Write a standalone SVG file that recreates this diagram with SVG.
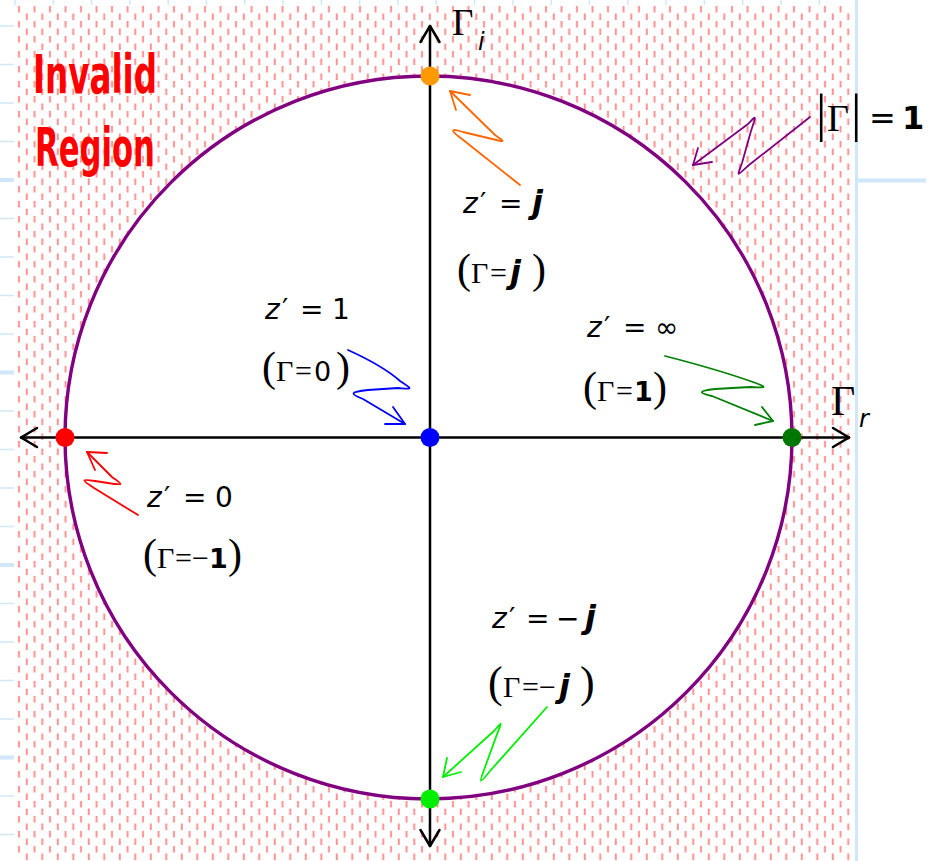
<svg xmlns="http://www.w3.org/2000/svg" width="934" height="861" viewBox="0 0 934 861">
<defs>
<style>
.grid{stroke:#cfe7f8;stroke-width:1.5}
.gridb{stroke:#cfe7f8;stroke-width:4}
.axis{stroke:#000;stroke-width:2.5;fill:none;stroke-linecap:round;stroke-linejoin:round}
.sq{fill:none;stroke-width:1.8;stroke-linecap:round;stroke-linejoin:round}
.ser{font-family:'Liberation Serif','DejaVu Serif',serif;fill:#000}
.sans{font-family:'DejaVu Sans','Liberation Sans',sans-serif;fill:#000}
.it{font-style:italic}
.inv{font-family:'DejaVu Sans Condensed','DejaVu Sans',sans-serif;font-size:54px;font-weight:bold;fill:#ff0000}
</style>
<pattern id="hatch" patternUnits="userSpaceOnUse" x="15.25" y="5" width="15.5" height="15">
<line x1="3.75" y1="1" x2="3.75" y2="7.5" stroke="#ff8585" stroke-width="2" stroke-opacity="0.9"/>
<line x1="11.5" y1="8.5" x2="11.5" y2="15" stroke="#ff8585" stroke-width="2" stroke-opacity="0.9"/>
</pattern>
</defs>
<rect width="934" height="861" fill="#fff"/>
<g id="grid">
<line class="grid" x1="0" y1="26" x2="14" y2="26"/>
<line class="grid" x1="0" y1="64.5" x2="14" y2="64.5"/>
<line class="grid" x1="0" y1="103" x2="14" y2="103"/>
<line class="grid" x1="0" y1="141.5" x2="14" y2="141.5"/>
<line class="gridb" x1="0" y1="180" x2="14" y2="180"/>
<line class="grid" x1="0" y1="218.5" x2="14" y2="218.5"/>
<line class="grid" x1="0" y1="257" x2="14" y2="257"/>
<line class="grid" x1="0" y1="295.5" x2="14" y2="295.5"/>
<line class="grid" x1="0" y1="334" x2="14" y2="334"/>
<line class="gridb" x1="0" y1="372.5" x2="14" y2="372.5"/>
<line class="grid" x1="0" y1="411" x2="14" y2="411"/>
<line class="grid" x1="0" y1="449.5" x2="14" y2="449.5"/>
<line class="grid" x1="0" y1="488" x2="14" y2="488"/>
<line class="grid" x1="0" y1="526.5" x2="14" y2="526.5"/>
<line class="gridb" x1="0" y1="565" x2="14" y2="565"/>
<line class="grid" x1="0" y1="603.5" x2="14" y2="603.5"/>
<line class="grid" x1="0" y1="642" x2="14" y2="642"/>
<line class="grid" x1="0" y1="680.5" x2="14" y2="680.5"/>
<line class="grid" x1="0" y1="719" x2="14" y2="719"/>
<line class="gridb" x1="0" y1="757.5" x2="14" y2="757.5"/>
<line class="grid" x1="0" y1="796" x2="14" y2="796"/>
<line class="grid" x1="0" y1="834.5" x2="14" y2="834.5"/>
<line class="grid" x1="15" y1="0" x2="15" y2="5"/>
<line class="grid" x1="53.3" y1="0" x2="53.3" y2="5"/>
<line class="grid" x1="91.6" y1="0" x2="91.6" y2="5"/>
<line class="grid" x1="129.9" y1="0" x2="129.9" y2="5"/>
<line class="grid" x1="168.2" y1="0" x2="168.2" y2="5"/>
<line class="grid" x1="206.5" y1="0" x2="206.5" y2="5"/>
<line class="grid" x1="244.8" y1="0" x2="244.8" y2="5"/>
<line class="grid" x1="283.1" y1="0" x2="283.1" y2="5"/>
<line class="grid" x1="321.4" y1="0" x2="321.4" y2="5"/>
<line class="grid" x1="359.7" y1="0" x2="359.7" y2="5"/>
<line class="grid" x1="398" y1="0" x2="398" y2="5"/>
<line class="grid" x1="436.3" y1="0" x2="436.3" y2="5"/>
<line class="grid" x1="474.6" y1="0" x2="474.6" y2="5"/>
<line class="grid" x1="512.9" y1="0" x2="512.9" y2="5"/>
<line class="grid" x1="551.2" y1="0" x2="551.2" y2="5"/>
<line class="grid" x1="589.5" y1="0" x2="589.5" y2="5"/>
<line class="grid" x1="627.8" y1="0" x2="627.8" y2="5"/>
<line class="grid" x1="666.1" y1="0" x2="666.1" y2="5"/>
<line class="grid" x1="704.4" y1="0" x2="704.4" y2="5"/>
<line class="grid" x1="742.7" y1="0" x2="742.7" y2="5"/>
<line class="grid" x1="781" y1="0" x2="781" y2="5"/>
<line class="grid" x1="819.3" y1="0" x2="819.3" y2="5"/>
<line class="gridb" x1="856.5" y1="0" x2="856.5" y2="861" style="stroke-width:3"/>
<line class="gridb" x1="858" y1="180.5" x2="926" y2="180.5"/>
</g>
<rect id="invalid-region" x="16" y="5" width="838" height="856" fill="url(#hatch)"/>
<ellipse id="unit-circle" cx="428.5" cy="437.5" rx="363.5" ry="361.5" fill="#fff" stroke="#800080" stroke-width="3.4"/>
<g id="axes">
<line class="axis" x1="21" y1="437.5" x2="849" y2="437.5"/>
<line class="axis" x1="430" y1="26" x2="430" y2="846"/>
<polyline class="axis" points="37,428 21,437.5 37,447"/>
<polyline class="axis" points="833,428 849,437.5 833,447"/>
<polyline class="axis" points="420.5,42 430,26 439.5,42"/>
<polyline class="axis" points="420.5,830 430,846 439.5,830"/>
<text class="ser" x="452" y="35" font-size="37">Γ</text>
<text class="sans it" x="478" y="50" font-size="24">i</text>
<text class="ser" x="831" y="415" font-size="42">Γ</text>
<text class="sans it" x="859" y="427" font-size="24">r</text>
</g>
<g id="invalid-label">
<text class="inv" x="33" y="93" textLength="124" lengthAdjust="spacingAndGlyphs">Invalid</text>
<text class="inv" x="35" y="166" textLength="120" lengthAdjust="spacingAndGlyphs">Region</text>
</g>
<g id="node-unit-label">
<text class="ser" y="131"><tspan x="816" font-size="52">|</tspan><tspan x="827" font-size="38">Γ</tspan><tspan x="851" font-size="52">|</tspan></text>
<text class="sans" y="129" font-size="32"><tspan x="869">=</tspan><tspan x="902" font-weight="bold">1</tspan></text>
</g>
<g id="node-top">
<circle cx="430" cy="76" r="9.5" fill="#ff9900"/>
<text class="sans" y="213" font-size="28"><tspan x="463" class="it">z</tspan><tspan x="480">′</tspan><tspan x="499">=</tspan><tspan x="532" class="it" font-size="32" font-weight="bold">j</tspan></text>
<text class="ser" y="283" font-size="30"><tspan x="457" font-size="42">(</tspan><tspan x="471">Γ</tspan><tspan x="490">=</tspan><tspan x="510" class="sans it" font-size="32" font-weight="bold">j</tspan><tspan x="532" font-size="42">)</tspan></text>
</g>
<g id="node-center">
<circle cx="430" cy="437.5" r="9.5" fill="#0000ff"/>
<text class="sans" y="319" font-size="28"><tspan x="265" class="it">z</tspan><tspan x="282">′</tspan><tspan x="300">=</tspan><tspan x="332">1</tspan></text>
<text class="ser" y="381" font-size="30"><tspan x="262" font-size="42">(</tspan><tspan x="276">Γ</tspan><tspan x="295">=</tspan><tspan x="314" class="sans" font-size="27">0</tspan><tspan x="336" font-size="42">)</tspan></text>
</g>
<g id="node-right">
<circle cx="792" cy="437.5" r="9.5" fill="#007700"/>
<text class="sans" y="337" font-size="28"><tspan x="587" class="it">z</tspan><tspan x="604">′</tspan><tspan x="623">=</tspan><tspan x="655">∞</tspan></text>
<text class="ser" y="401" font-size="30"><tspan x="583" font-size="42">(</tspan><tspan x="597">Γ</tspan><tspan x="616">=</tspan><tspan x="634" class="sans" font-size="27" font-weight="bold">1</tspan><tspan x="653" font-size="42">)</tspan></text>
</g>
<g id="node-left">
<circle cx="65" cy="437.5" r="9.5" fill="#ff0000"/>
<text class="sans" y="507" font-size="28"><tspan x="147" class="it">z</tspan><tspan x="164">′</tspan><tspan x="183">=</tspan><tspan x="215">0</tspan></text>
<text class="ser" y="568" font-size="30"><tspan x="143" font-size="42">(</tspan><tspan x="157">Γ</tspan><tspan x="175">=</tspan><tspan x="192">−</tspan><tspan x="209" class="sans" font-size="27" font-weight="bold">1</tspan><tspan x="228" font-size="42">)</tspan></text>
</g>
<g id="node-bottom">
<circle cx="430" cy="799" r="9.5" fill="#00ee00"/>
<text class="sans" y="628" font-size="28"><tspan x="492" class="it">z</tspan><tspan x="509">′</tspan><tspan x="526">=</tspan><tspan x="556">−</tspan><tspan x="585" class="it" font-size="32" font-weight="bold">j</tspan></text>
<text class="ser" y="697" font-size="30"><tspan x="488" font-size="44">(</tspan><tspan x="503">Γ</tspan><tspan x="522">=</tspan><tspan x="539">−</tspan><tspan x="559" class="sans it" font-size="32" font-weight="bold">j</tspan><tspan x="580" font-size="44">)</tspan></text>
</g>
<g id="connectors">
<path class="sq" stroke="#ff6600" d="M520,185 L462,139 C450,130 450,128 463,132 L488,138 C507,143 505,142 495,135 L450,91"/>
<path class="sq" stroke="#ff6600" d="M470,95 L450,91 L456,110"/>
<path class="sq" stroke="#0000ff" d="M348,350 C370,360 390,372 400,381 C414,390 412,389 398,388 L368,390 C349,392 350,394 363,399 L405,424"/>
<path class="sq" stroke="#0000ff" d="M393,407 L405,424 L385,424"/>
<path class="sq" stroke="#008000" d="M665,356 C700,365 730,374 750,381 C770,388 766,388 750,387 L715,389 C697,391 699,393 712,396 L773,421"/>
<path class="sq" stroke="#008000" d="M762,407 L773,421 L755,425"/>
<path class="sq" stroke="#ff0000" d="M138,515 L94,488 C80,479 82,479 95,481 L108,483 C126,486 122,484 112,477 L87,452"/>
<path class="sq" stroke="#ff0000" d="M107,453 L87,452 L95,470"/>
<path class="sq" stroke="#00ee00" d="M547,707 L490,771 C479,785 479,783 484,770 L496,737 C503,719 502,722 494,731 L443,777"/>
<path class="sq" stroke="#00ee00" d="M447,758 L443,777 L461,772"/>
<path class="sq" stroke="#800080" d="M810,117 L749,165 C736,177 737,177 742,163 L751,131 C757,113 756,116 748,124 L693,165"/>
<path class="sq" stroke="#800080" d="M698,148 L693,165 L712,162"/>
</g>
</svg>
